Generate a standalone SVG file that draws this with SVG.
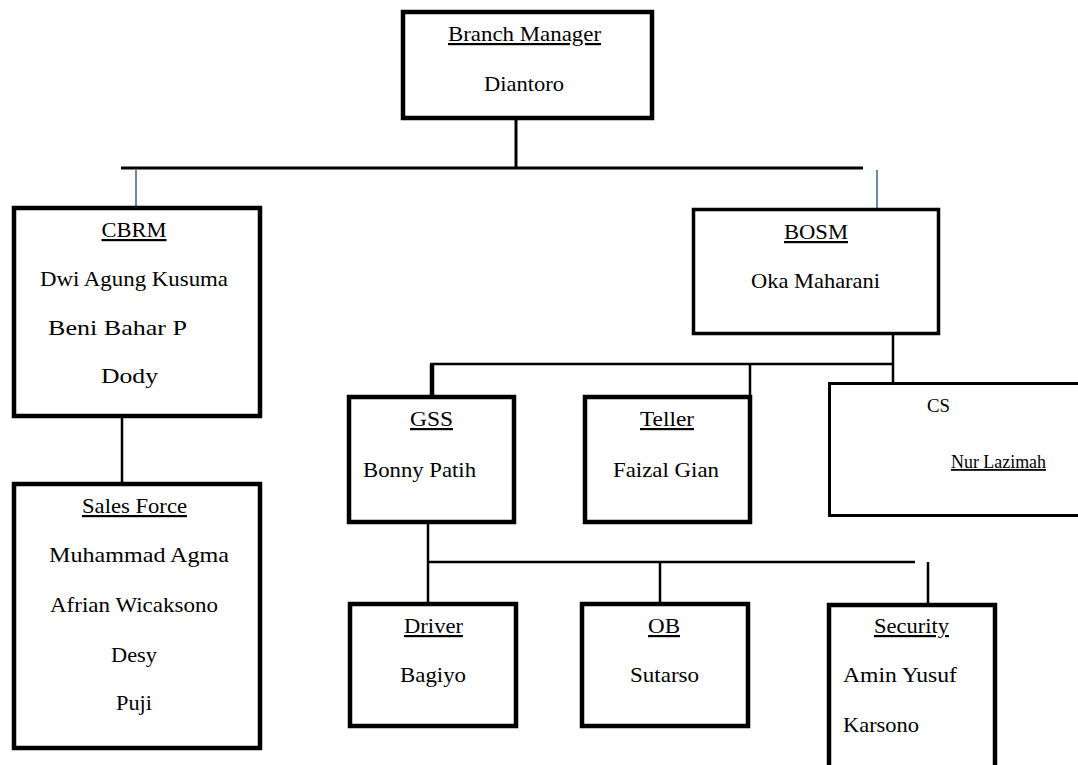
<svg xmlns="http://www.w3.org/2000/svg" width="1078" height="765" viewBox="0 0 1078 765">
<style>
.box{fill:#fff;stroke:#000;stroke-width:4.5}
.thin{fill:#fff;stroke:#000;stroke-width:3}
.t{font-family:'Liberation Serif','DejaVu Serif',serif;font-size:22px;fill:#000}
.c{text-anchor:middle}
.u{text-decoration:underline}
.s{font-size:18px}
.ln{stroke:#000;stroke-width:3;fill:none}
.ln2{stroke:#000;stroke-width:2.5;fill:none}
.blue{stroke:#6a8aa8;stroke-width:2;fill:none}
</style>
<rect width="1078" height="765" fill="#fff"/>
<g id="connectors">
<path class="ln" d="M516 120V168"/>
<path class="ln" d="M121 168H863"/>
<path class="blue" d="M136 169V206"/>
<path class="blue" d="M877 170V208"/>
<path class="ln2" d="M122 418V482"/>
<path class="ln2" d="M893 335V395"/>
<path class="ln2" d="M430 364H893"/>
<path class="ln" d="M432 364V395" style="stroke-width:4.5"/>
<path class="ln2" d="M750 364V395"/>
<path class="ln2" d="M428 524V602"/>
<path class="ln2" d="M428 562H915"/>
<path class="ln2" d="M660 562V602"/>
<path class="ln2" d="M928 562V603"/>
</g>
<g id="branch-manager">
<rect class="box" x="403" y="12" width="249" height="106"/>
<text class="t c u" x="524.5" y="41" textLength="153" lengthAdjust="spacingAndGlyphs">Branch Manager</text>
<text class="t c" x="524" y="91" textLength="80" lengthAdjust="spacingAndGlyphs">Diantoro</text>
</g>
<g id="cbrm">
<rect class="box" x="14" y="208" width="246" height="208"/>
<text class="t c u" x="134" y="237" textLength="65" lengthAdjust="spacingAndGlyphs">CBRM</text>
<text class="t c" x="134" y="286" textLength="188" lengthAdjust="spacingAndGlyphs">Dwi Agung Kusuma</text>
<text class="t" x="48" y="335" textLength="139" lengthAdjust="spacingAndGlyphs">Beni Bahar P</text>
<text class="t c" x="129.5" y="383" textLength="57" lengthAdjust="spacingAndGlyphs">Dody</text>
</g>
<g id="sales-force">
<rect class="box" x="14" y="484" width="246" height="264"/>
<text class="t c u" x="134.5" y="513" textLength="105" lengthAdjust="spacingAndGlyphs">Sales Force</text>
<text class="t c" x="139" y="562" textLength="180" lengthAdjust="spacingAndGlyphs">Muhammad Agma</text>
<text class="t c" x="134" y="612" textLength="168" lengthAdjust="spacingAndGlyphs">Afrian Wicaksono</text>
<text class="t c" x="134" y="662" textLength="46" lengthAdjust="spacingAndGlyphs">Desy</text>
<text class="t c" x="134" y="710" textLength="36" lengthAdjust="spacingAndGlyphs">Puji</text>
</g>
<g id="bosm">
<rect class="thin" x="693.5" y="209.5" width="245" height="124" style="stroke-width:3.5"/>
<text class="t c u" x="816" y="239" textLength="64" lengthAdjust="spacingAndGlyphs">BOSM</text>
<text class="t c" x="815.5" y="288" textLength="129" lengthAdjust="spacingAndGlyphs">Oka Maharani</text>
</g>
<g id="gss">
<rect class="box" x="349" y="397" width="165" height="125"/>
<text class="t c u" x="431.5" y="426" textLength="43" lengthAdjust="spacingAndGlyphs">GSS</text>
<text class="t" x="363" y="477" textLength="113" lengthAdjust="spacingAndGlyphs">Bonny Patih</text>
</g>
<g id="teller">
<rect class="box" x="585" y="397" width="165" height="125"/>
<text class="t c u" x="667" y="426" textLength="54" lengthAdjust="spacingAndGlyphs">Teller</text>
<text class="t c" x="666" y="477" textLength="106" lengthAdjust="spacingAndGlyphs">Faizal Gian</text>
</g>
<g id="cs">
<rect class="thin" x="829.5" y="383.5" width="260" height="132"/>
<text class="t s" x="927" y="412" textLength="23" lengthAdjust="spacingAndGlyphs">CS</text>
<text class="t s u" x="951" y="468" textLength="95" lengthAdjust="spacingAndGlyphs">Nur Lazimah</text>
</g>
<g id="driver">
<rect class="box" x="350" y="604" width="166" height="122"/>
<text class="t c u" x="433.5" y="633" textLength="59" lengthAdjust="spacingAndGlyphs">Driver</text>
<text class="t c" x="433" y="682" textLength="66" lengthAdjust="spacingAndGlyphs">Bagiyo</text>
</g>
<g id="ob">
<rect class="box" x="582" y="604" width="166" height="122"/>
<text class="t c u" x="664" y="633" textLength="32" lengthAdjust="spacingAndGlyphs">OB</text>
<text class="t c" x="664.5" y="682" textLength="69" lengthAdjust="spacingAndGlyphs">Sutarso</text>
</g>
<g id="security">
<rect class="box" x="829" y="605" width="166" height="200"/>
<text class="t c u" x="911.5" y="633" textLength="75" lengthAdjust="spacingAndGlyphs">Security</text>
<text class="t" x="843" y="682" textLength="114" lengthAdjust="spacingAndGlyphs">Amin Yusuf</text>
<text class="t" x="843" y="732" textLength="76" lengthAdjust="spacingAndGlyphs">Karsono</text>
</g>
</svg>
